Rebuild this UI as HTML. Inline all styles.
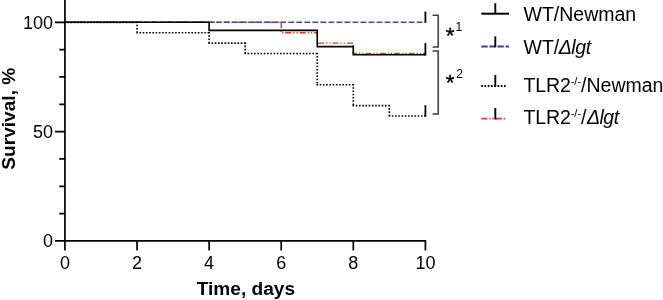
<!DOCTYPE html>
<html><head><meta charset="utf-8"><title>Survival</title>
<style>
html,body{margin:0;padding:0;background:#fff;}
body{width:663px;height:300px;overflow:hidden;}
svg{display:block;}
text{font-family:"Liberation Sans",Arial,sans-serif;fill:#000;}
.b{font-weight:bold;}
.i{font-style:italic;}
</style></head><body>
<svg width="663" height="300" viewBox="0 0 663 300">
<rect width="663" height="300" fill="#fff"/>
<!-- curves -->
<path d="M64.95 22.30 H281.22 V32.71 H317.26 V43.12 H353.31 V53.54 H425.40" fill="none" stroke="#e03a20" stroke-width="1.4" stroke-dasharray="6 2 1.3 1.9 1.3 1.92"/>
<path d="M64.15 22.30 H137.04 M137.04 21.50 V32.71 M136.24 32.71 H209.13 M209.13 31.91 V43.12 M208.33 43.12 H245.18 M245.18 42.32 V53.54 M244.38 53.54 H317.26 M317.26 52.74 V84.77 M316.46 84.77 H353.31 M353.31 83.97 V105.60 M352.51 105.60 H389.36 M389.36 104.80 V116.01 M388.56 116.01 H425.40" fill="none" stroke="#000" stroke-width="1.65" stroke-dasharray="1.6 1.64"/>
<path d="M425.40 116.71 v-11.5" fill="none" stroke="#000" stroke-width="1.8"/>
<path d="M64.95 22.30 H425.40" fill="none" stroke="#3550a0" stroke-width="1.5" stroke-dasharray="5.73 2.3" stroke-dashoffset="-6.57"/>
<path d="M425.40 22.90 v-11.4" fill="none" stroke="#000" stroke-width="1.8"/>
<path d="M64.95 22.30 H209.13 V30.40 H317.26 V46.59 H353.31 V54.69 H425.40" fill="none" stroke="#000" stroke-width="1.6"/>
<path d="M425.40 55.54 v-12.45" fill="none" stroke="#000" stroke-width="1.8"/>
<!-- axes -->
<g stroke="#000" stroke-width="1.7" fill="none">
<path d="M64.95 0 V241.80"/>
<path d="M64.10 240.95 H426.25"/>
<path d="M55 22.30 H64.95 M55 131.62 H64.95 M55 240.95 H64.95"/>
<path d="M59.3 49.63 H64.95 M59.3 76.96 H64.95 M59.3 104.29 H64.95 M59.3 158.96 H64.95 M59.3 186.29 H64.95 M59.3 213.62 H64.95"/>
<path d="M64.95 240.95 V250.4 M137.04 240.95 V250.4 M209.13 240.95 V250.4 M281.22 240.95 V250.4 M353.31 240.95 V250.4 M425.40 240.95 V250.4"/>
</g>
<!-- tick labels -->
<g font-size="18" text-anchor="end">
<text x="53" y="28.80">100</text>
<text x="53" y="138.12">50</text>
<text x="53" y="247.45">0</text>
</g>
<g font-size="18" text-anchor="middle">
<text x="64.95" y="269.4">0</text><text x="137.04" y="269.4">2</text><text x="209.13" y="269.4">4</text><text x="281.22" y="269.4">6</text><text x="353.31" y="269.4">8</text><text x="425.40" y="269.4">10</text>
</g>
<text class="b" font-size="19.1" text-anchor="middle" x="245.9" y="295.1">Time, days</text>
<text class="b" font-size="19.1" text-anchor="middle" transform="translate(15.2 118.7) rotate(-90)">Survival, %</text>
<!-- brackets -->
<g stroke="#3c3c3c" stroke-width="1.5" fill="none">
<path d="M432.6 15.3 H438.2 V46.9 H432.6"/>
<path d="M432.6 51 H438.2 V114 H432.6"/>
</g>
<text font-size="22.5" x="445.8" y="43.2" stroke="#000" stroke-width="0.4">*</text>
<text font-size="12" x="455.6" y="30.9">1</text>
<text font-size="22.5" x="445.8" y="89.6" stroke="#000" stroke-width="0.4">*</text>
<text font-size="12" x="456.3" y="77.7">2</text>
<!-- legend -->
<g fill="none" stroke-width="1.9">
<path d="M481.3 13.7 H509" stroke="#000" stroke-width="2"/>
<path d="M495.3 13.7 V3.2" stroke="#000"/>
<path d="M481.3 46.6 H509" stroke="#2f44a0" stroke-width="2" stroke-dasharray="6.4 1.65"/>
<path d="M495.3 47.2 V36.4" stroke="#000"/>
<path d="M481.3 85.9 H505.8" stroke="#000" stroke-width="2" stroke-dasharray="1.7 1.54"/>
<path d="M495.3 86.8 V75" stroke="#000"/>
<path d="M481.3 118.7 H505.8" stroke="#e03a20" stroke-width="1.8" stroke-dasharray="6 2 1.3 1.9 1.3 1.92"/>
<path d="M495.3 119.5 V108" stroke="#000"/>
</g>
<g font-size="19.5">
<text x="523.5" y="21.3">WT/Newman</text>
<text x="523.5" y="54.1">WT/<tspan class="i" dx="-0.6" letter-spacing="-0.35">Δlgt</tspan></text>
<text x="523.6" y="91.9"><tspan letter-spacing="-0.15">TLR2</tspan><tspan font-size="11" dy="-7">-/-</tspan><tspan dy="7">/Newman</tspan></text>
<text x="523.6" y="124"><tspan letter-spacing="-0.15">TLR2</tspan><tspan font-size="11" dy="-7">-/-</tspan><tspan dy="7">/</tspan><tspan class="i" dx="0.4" letter-spacing="-0.5">Δlgt</tspan></text>
</g>
</svg>
</body></html>
